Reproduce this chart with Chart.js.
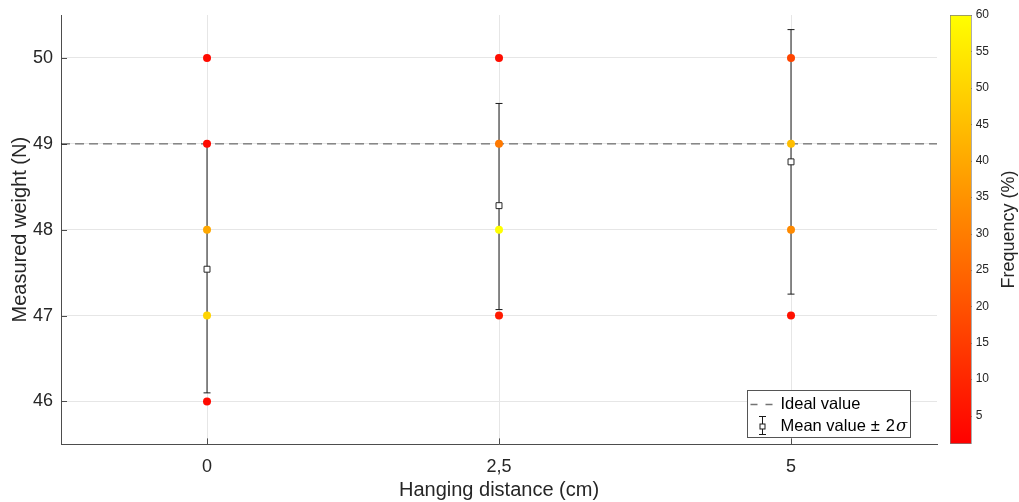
<!DOCTYPE html>
<html>
<head>
<meta charset="utf-8">
<title>Measured weight vs hanging distance</title>
<script src="https://cdn.jsdelivr.net/npm/chart.js@4.4.0/dist/chart.umd.min.js"></script>
<style>
  html, body { margin: 0; padding: 0; background: #fff; }
  #wrap { position: relative; width: 1019px; height: 502px; }
  #main { position: absolute; left: 0; top: 0; width: 945px; height: 502px; }
  #bar { position: absolute; left: 940px; top: 0; width: 79px; height: 502px; }
</style>
</head>
<body>
<div id="wrap">
  <div id="main"><canvas id="mainChart"></canvas></div>
  <div id="bar"><canvas id="colorbar"></canvas></div>
</div>
<script>
// x positions (cm) and the labels MATLAB printed for them
const positions = [0, 2.5, 5];
const positionLabels = ['0', '2,5', '5'];
const xRange = [-1.25, 6.25];
const weightTicks = [46, 47, 48, 49, 50];
const yRange = [45.5, 50.5];

// measured weights (N) and how often each came up (%)
const weights0 = [50, 49, 48, 47, 46];
const freq0 = [3.3, 3.3, 40, 50, 3.3];
const weights25 = [50, 49, 48, 47];
const freq25 = [4, 29, 60, 7];
const weights5 = [50, 49, 48, 47];
const freq5 = [17, 45, 33, 5];

// mean value +- 2 sigma
const meanValues = [47.54, 48.28, 48.79];
const lowerBars = [46.10, 47.07, 47.25];
const upperBars = [49.00, 49.47, 50.33];
const idealValue = 49;

// colorbar
const freqMin = 1.1;
const freqMax = 60;
const freqTicks = [5, 10, 15, 20, 25, 30, 35, 40, 45, 50, 55, 60];

Chart.defaults.font.family = '"Liberation Sans", Arial, Helvetica, sans-serif';
Chart.defaults.color = '#262626';

// matlab "autumn" colormap: red -> yellow
function autumn(f) {
  const t = Math.max(0, Math.min(1, (f - freqMin) / (freqMax - freqMin)));
  return 'rgb(255,' + Math.round(255 * t) + ',0)';
}

const groups = [
  { x: positions[0], weights: weights0, freq: freq0 },
  { x: positions[1], weights: weights25, freq: freq25 },
  { x: positions[2], weights: weights5, freq: freq5 }
];

const dotData = [];
const dotColors = [];
groups.forEach(g => {
  g.weights.forEach((w, j) => {
    dotData.push({ x: g.x, y: w });
    dotColors.push(autumn(g.freq[j]));
  });
});

const errorSets = positions.map((x, i) => ({
  type: 'line',
  data: [{ x: x, y: lowerBars[i] }, { x: x, y: upperBars[i] }],
  borderColor: '#1a1a1a',
  borderWidth: 1,
  pointStyle: 'line',
  pointRadius: 3.5,
  pointBorderColor: '#1a1a1a',
  pointBorderWidth: 1,
  order: 2
}));

// tick marks pointing into the plot, like matlab does
const inwardTicks = {
  id: 'inwardTicks',
  beforeDatasetsDraw(chart, args, opts) {
    const ctx = chart.ctx;
    const area = chart.chartArea;
    const len = opts.length || 5;
    ctx.save();
    ctx.strokeStyle = opts.color || '#4d4d4d';
    ctx.lineWidth = 1;
    ctx.beginPath();
    (opts.scales || []).forEach(id => {
      const s = chart.scales[id];
      s.ticks.forEach(t => {
        const p = Math.round(s.getPixelForValue(t.value)) + 0.5;
        if (s.isHorizontal()) {
          ctx.moveTo(p, area.bottom);
          ctx.lineTo(p, area.bottom - len);
        } else if (s.position === 'left') {
          ctx.moveTo(area.left, p);
          ctx.lineTo(area.left + len, p);
        } else {
          ctx.moveTo(area.right, p);
          ctx.lineTo(area.right - len, p);
        }
      });
    });
    ctx.stroke();
    ctx.restore();
  }
};

const legendBox = {
  id: 'legendBox',
  afterDraw(chart) {
    const ctx = chart.ctx;
    const area = chart.chartArea;
    const w = 163, h = 47;
    const x0 = Math.round(area.right - 27 - w) + 0.5;
    const y0 = Math.round(area.bottom - 7 - h) + 0.5;
    ctx.save();
    ctx.fillStyle = '#fff';
    ctx.fillRect(x0, y0, w, h);
    ctx.strokeStyle = '#555';
    ctx.lineWidth = 1;
    ctx.strokeRect(x0, y0, w, h);

    // ideal value sample
    const r1 = y0 + 14;
    ctx.strokeStyle = 'rgba(0,0,0,0.55)';
    ctx.lineWidth = 1.3;
    ctx.setLineDash([7, 8]);
    ctx.beginPath();
    ctx.moveTo(x0 + 3, r1);
    ctx.lineTo(x0 + 26, r1);
    ctx.stroke();
    ctx.setLineDash([]);

    // error bar sample
    const r2 = y0 + 36;
    const cx = x0 + 15;
    ctx.strokeStyle = '#1a1a1a';
    ctx.lineWidth = 1;
    ctx.beginPath();
    ctx.moveTo(cx, y0 + 26); ctx.lineTo(cx, y0 + 44);
    ctx.moveTo(cx - 3.5, y0 + 26); ctx.lineTo(cx + 3.5, y0 + 26);
    ctx.moveTo(cx - 3.5, y0 + 44); ctx.lineTo(cx + 3.5, y0 + 44);
    ctx.stroke();
    ctx.fillStyle = '#fff';
    ctx.fillRect(cx - 2.5, r2 - 2.5, 5, 5);
    ctx.strokeRect(cx - 2.5, r2 - 2.5, 5, 5);

    ctx.fillStyle = '#000';
    ctx.textBaseline = 'middle';
    ctx.textAlign = 'left';
    ctx.font = '16.5px "Liberation Sans", Arial, sans-serif';
    ctx.fillText('Ideal value', x0 + 33, r1);
    let tx = x0 + 33;
    ctx.fillText('Mean value', tx, r2);
    tx += ctx.measureText('Mean value').width + 5;
    ctx.fillText('\u00B1', tx, r2);
    tx += ctx.measureText('\u00B1').width + 6;
    ctx.fillText('2', tx, r2);
    tx += ctx.measureText('2').width + 1;
    ctx.font = 'italic 16.5px "DejaVu Serif", "Liberation Serif", serif';
    ctx.fillText('\u03C3', tx, r2);
    ctx.restore();
  }
};

new Chart(document.getElementById('mainChart'), {
  type: 'scatter',
  data: {
    datasets: [
      {
        data: dotData,
        backgroundColor: dotColors,
        borderWidth: 0,
        pointRadius: 4,
        order: 0
      },
      {
        data: positions.map((x, i) => ({ x: x, y: meanValues[i] })),
        pointStyle: 'rect',
        pointRadius: 4.2,
        backgroundColor: '#fff',
        borderColor: '#262626',
        borderWidth: 1,
        order: 1
      },
      ...errorSets,
      {
        type: 'line',
        data: [{ x: xRange[0], y: idealValue }, { x: xRange[1], y: idealValue }],
        borderColor: 'rgba(0,0,0,0.55)',
        borderWidth: 1.3,
        borderDash: [9, 5],
        pointRadius: 0,
        order: 3
      }
    ]
  },
  options: {
    animation: false,
    responsive: true,
    maintainAspectRatio: false,
    events: [],
    layout: { padding: { left: 5, top: 15, right: 8, bottom: 0 } },
    plugins: {
      legend: { display: false },
      tooltip: { enabled: false },
      inwardTicks: { scales: ['x', 'y'], length: 6, color: '#4d4d4d' }
    },
    scales: {
      x: {
        type: 'linear',
        min: xRange[0],
        max: xRange[1],
        afterBuildTicks: s => { s.ticks = positions.map(v => ({ value: v })); },
        ticks: {
          callback: (v, i) => positionLabels[i],
          font: { size: 18 },
          padding: 12,
          maxRotation: 0,
          autoSkip: false
        },
        grid: { color: '#e6e6e6', drawTicks: false },
        border: { color: '#4d4d4d', width: 1 },
        title: {
          display: true,
          text: 'Hanging distance (cm)',
          font: { size: 20 },
          padding: { top: -12, bottom: 0 }
        }
      },
      y: {
        min: yRange[0],
        max: yRange[1],
        afterBuildTicks: s => { s.ticks = weightTicks.map(v => ({ value: v })); },
        // the 50 label is well inside the axis, no need for label overflow room
        afterFit: s => { s.paddingTop = 0; s.paddingBottom = 0; },
        ticks: {
          callback: v => String(v),
          font: { size: 18 },
          padding: 8
        },
        grid: { color: '#e6e6e6', drawTicks: false },
        border: { color: '#4d4d4d', width: 1 },
        title: {
          display: true,
          text: 'Measured weight (N)',
          font: { size: 20 },
          padding: { top: 3, bottom: -7 }
        }
      }
    }
  },
  plugins: [inwardTicks, legendBox]
});

const barTitle = {
  id: 'barTitle',
  afterDraw(chart) {
    const ctx = chart.ctx;
    const area = chart.chartArea;
    ctx.save();
    ctx.translate(area.right + 37, (area.top + area.bottom) / 2);
    ctx.rotate(-Math.PI / 2);
    ctx.textAlign = 'center';
    ctx.textBaseline = 'middle';
    ctx.fillStyle = '#262626';
    ctx.font = '18px "Liberation Sans", Arial, sans-serif';
    ctx.fillText('Frequency (%)', 0, 0);
    ctx.restore();
  }
};

new Chart(document.getElementById('colorbar'), {
  type: 'bar',
  data: {
    labels: [''],
    datasets: [{
      data: [[freqMin, freqMax]],
      backgroundColor: c => {
        const area = c.chart.chartArea;
        if (!area) return 'rgb(255,0,0)';
        const g = c.chart.ctx.createLinearGradient(0, area.bottom, 0, area.top);
        g.addColorStop(0, 'rgb(255,0,0)');
        g.addColorStop(1, 'rgb(255,255,0)');
        return g;
      },
      borderColor: '#7f7f7f',
      borderWidth: 1,
      borderSkipped: false,
      barPercentage: 1,
      categoryPercentage: 1
    }]
  },
  options: {
    animation: false,
    responsive: true,
    maintainAspectRatio: false,
    events: [],
    layout: { padding: { left: 10, right: 26, top: 15, bottom: 58 } },
    plugins: {
      legend: { display: false },
      tooltip: { enabled: false },
      inwardTicks: { scales: ['y'], length: 3, color: '#4d4d4d' }
    },
    scales: {
      x: { display: false },
      y: {
        position: 'right',
        min: freqMin,
        max: freqMax,
        afterBuildTicks: s => { s.ticks = freqTicks.map(v => ({ value: v })); },
        ticks: { font: { size: 12 }, padding: 4 },
        grid: { display: true, drawOnChartArea: false, drawTicks: false },
        border: { display: false }
      }
    }
  },
  plugins: [inwardTicks, barTitle]
});
</script>
</body>
</html>
